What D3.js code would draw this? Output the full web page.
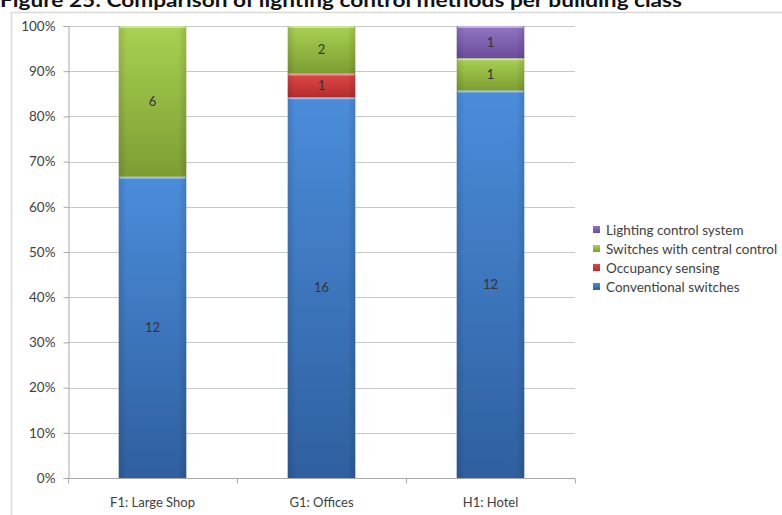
<!DOCTYPE html>
<html>
<head>
<meta charset="utf-8">
<script src="https://cdn.jsdelivr.net/npm/d3@7"></script>
<style>
  html, body { margin: 0; padding: 0; background: #fff; }
  svg { display: block; font-family: Lato, "Open Sans", sans-serif; }
</style>
</head>
<body>
<svg id="chart" width="782" height="515"></svg>
<script>
// Building classes and counts of each lighting control method
const categories = ["F1: Large Shop", "G1: Offices", "H1: Hotel"];
const seriesNames = ["Conventional switches", "Occupancy sensing", "Switches with central control", "Lighting control system"];
const conventional = [12, 16, 12];
const occupancy = [0, 1, 0];
const central = [6, 2, 1];
const lcs = [0, 0, 1];
const yTicks = [0, 0.1, 0.2, 0.3, 0.4, 0.5, 0.6, 0.7, 0.8, 0.9, 1.0];

// fill colours: [top, bottom] of each segment's gradient
const seriesColors = [
  ["#4b8ddb", "#2f5f9f"],
  ["#e04848", "#b52c2c"],
  ["#a9d152", "#7d9d33"],
  ["#9275c4", "#6a4c9a"]
];
const legendOrder = [3, 2, 1, 0];

const svg = d3.select("#chart");
const margin = { left: 68, right: 575, top: 26, bottom: 478 };

// table built from the arrays above
const seriesValues = [conventional, occupancy, central, lcs];
const rows = categories.map((c, i) => {
  const r = { category: c };
  seriesNames.forEach((s, k) => { r[s] = seriesValues[k][i]; });
  return r;
});
const stacked = d3.stack().keys(seriesNames).offset(d3.stackOffsetExpand)(rows);

const x = d3.scaleBand().domain(categories)
  .range([margin.left, margin.right])
  .paddingInner(0.6).paddingOuter(0.3);
const y = d3.scaleLinear().domain([0, 1]).range([margin.bottom, margin.top]);

// gradients
const defs = svg.append("defs");
seriesColors.forEach((c, k) => {
  const g = defs.append("linearGradient").attr("id", "grad" + k)
    .attr("x1", 0).attr("y1", 0).attr("x2", 0).attr("y2", 1);
  g.append("stop").attr("offset", "0%").attr("stop-color", c[0]);
  g.append("stop").attr("offset", "100%").attr("stop-color", c[1]);
  const h = defs.append("linearGradient").attr("id", "hgrad" + k)
    .attr("x1", 0).attr("y1", 0).attr("x2", 1).attr("y2", 0);
  h.append("stop").attr("offset", "0%").attr("stop-color", "#000").attr("stop-opacity", 0.12);
  h.append("stop").attr("offset", "12%").attr("stop-color", "#000").attr("stop-opacity", 0);
  h.append("stop").attr("offset", "88%").attr("stop-color", "#000").attr("stop-opacity", 0);
  h.append("stop").attr("offset", "100%").attr("stop-color", "#000").attr("stop-opacity", 0.12);
});

// title (runs off the top of the page)
svg.append("text")
  .attr("x", 0).attr("y", 7)
  .attr("font-size", 19).attr("font-weight", "bold").attr("fill", "#111")
  .attr("textLength", 682).attr("lengthAdjust", "spacingAndGlyphs")
  .text("Figure 25: Comparison of lighting control methods per building class");

// chart frame
svg.append("rect")
  .attr("x", 11.5).attr("y", 12.5).attr("width", 800).attr("height", 540)
  .attr("fill", "none").attr("stroke", "#d8d8d8").attr("stroke-width", 1.5);

// gridlines
svg.append("g").selectAll("line").data(yTicks.filter(t => t > 0)).join("line")
  .attr("x1", margin.left).attr("x2", margin.right)
  .attr("y1", d => Math.round(y(d)) + 0.5).attr("y2", d => Math.round(y(d)) + 0.5)
  .attr("stroke", "#c8c8c8").attr("stroke-width", 1);

// y axis
const yAxis = svg.append("g")
  .attr("transform", `translate(${margin.left + 0.5},0)`)
  .call(d3.axisLeft(y).tickValues(yTicks).tickFormat(d3.format(".0%")).tickSize(5).tickPadding(8));
yAxis.select(".domain").attr("stroke", "#a8a8a8");
yAxis.selectAll(".tick line").attr("stroke", "#a8a8a8");
yAxis.selectAll("text").attr("font-size", 13.5).attr("fill", "#404040")
  .attr("font-family", "Lato, 'Open Sans', sans-serif");

// x axis with ticks at category boundaries
const xAxisG = svg.append("g").attr("transform", `translate(0,${margin.bottom + 0.5})`);
xAxisG.append("line").attr("x1", margin.left).attr("x2", margin.right)
  .attr("stroke", "#a8a8a8");
const step = x.step();
const bounds = d3.range(categories.length + 1).map(i => margin.left + i * step);
xAxisG.selectAll("line.tk").data(bounds).join("line").attr("class", "tk")
  .attr("x1", d => Math.round(d) + 0.5).attr("x2", d => Math.round(d) + 0.5)
  .attr("y1", 0).attr("y2", 5).attr("stroke", "#a8a8a8");
xAxisG.selectAll("text").data(categories).join("text")
  .attr("x", d => x(d) + x.bandwidth() / 2).attr("y", 28)
  .attr("text-anchor", "middle").attr("font-size", 13).attr("fill", "#404040")
  .text(d => d);

// bars
const layers = svg.append("g").selectAll("g").data(stacked).join("g");
layers.each(function (layer, k) {
  const g = d3.select(this);
  const segs = layer.filter(d => d[1] - d[0] > 0);
  g.selectAll("rect.fill").data(segs).join("rect").attr("class", "fill")
    .attr("x", d => x(d.data.category)).attr("width", x.bandwidth())
    .attr("y", d => y(d[1])).attr("height", d => y(d[0]) - y(d[1]))
    .attr("fill", `url(#grad${k})`);
  g.selectAll("rect.shade").data(segs).join("rect").attr("class", "shade")
    .attr("x", d => x(d.data.category)).attr("width", x.bandwidth())
    .attr("y", d => y(d[1])).attr("height", d => y(d[0]) - y(d[1]))
    .attr("fill", `url(#hgrad${k})`);
  // bevel highlight along the top edge
  g.selectAll("line.hi").data(segs).join("line").attr("class", "hi")
    .attr("x1", d => x(d.data.category) + 1).attr("x2", d => x(d.data.category) + x.bandwidth() - 1)
    .attr("y1", d => y(d[1]) + 1).attr("y2", d => y(d[1]) + 1)
    .attr("stroke", "#fff").attr("stroke-opacity", 0.45).attr("stroke-width", 2);
  g.selectAll("text").data(segs).join("text")
    .attr("x", d => x(d.data.category) + x.bandwidth() / 2)
    .attr("y", d => (y(d[0]) + y(d[1])) / 2 + 4.5)
    .attr("text-anchor", "middle").attr("font-size", 13).attr("fill", "#333")
    .text(d => d.data[layer.key]);
});

// legend
const legend = svg.append("g").attr("transform", "translate(593,230)");
legendOrder.forEach((k, i) => {
  const row = legend.append("g").attr("transform", `translate(0,${i * 19})`);
  row.append("rect").attr("x", 0).attr("y", -4).attr("width", 7).attr("height", 7)
    .attr("fill", `url(#grad${k})`);
  row.append("text").attr("x", 13).attr("y", 4.5)
    .attr("font-size", 13.5).attr("fill", "#404040").text(seriesNames[k]);
});
</script>
</body>
</html>
